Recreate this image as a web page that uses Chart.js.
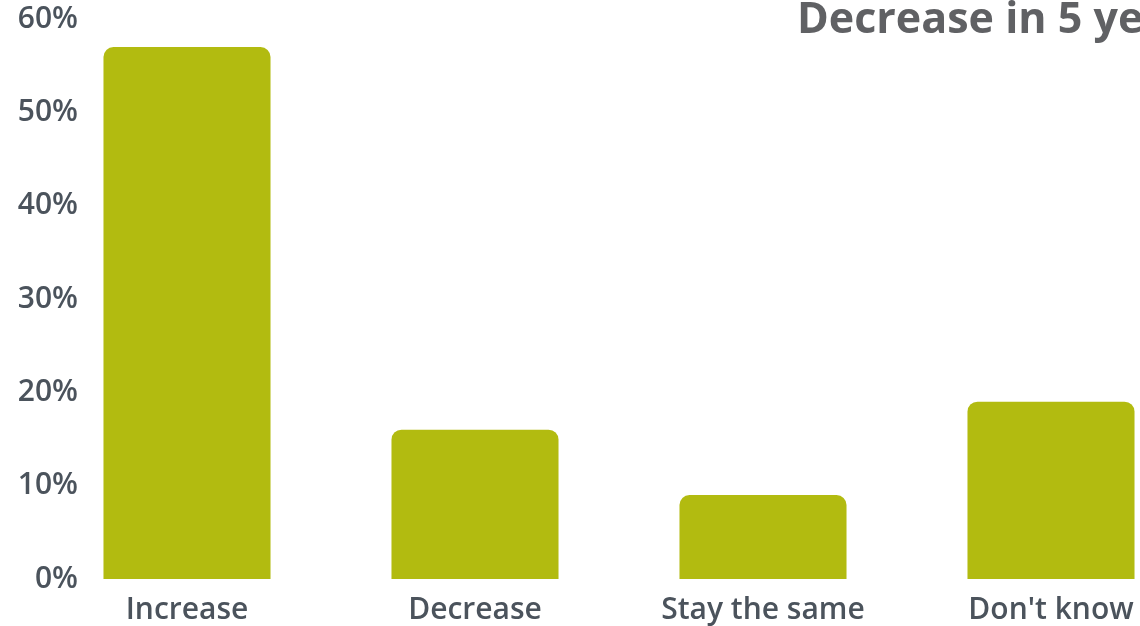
<!DOCTYPE html>
<html>
<head>
<meta charset="utf-8">
<script src="https://cdn.jsdelivr.net/npm/chart.js@4/dist/chart.umd.min.js"></script>
<style>
html,body{margin:0;padding:0;background:#fff;overflow:hidden;width:1140px;height:626px;}
#wrap{position:absolute;left:0;top:0;width:1140px;height:626px;overflow:hidden;}
canvas{display:block;}
</style>
</head>
<body>
<div id="wrap"><canvas id="c" width="1215" height="626"></canvas></div>
<script>
const categories = ["Increase", "Decrease", "Stay the same", "Don't know"];
const values = [57, 16, 9, 19];
const yTicks = [0, 10, 20, 30, 40, 50, 60];
const titleText = "Decrease in 5 years";

const FONT = "'Open Sans', 'Noto Sans', sans-serif";
const TICK_SIZE = 30;
const TICK_WEIGHT = 600;
const Y_AXIS_W = 43;
const LABEL_RIGHT = 78;

const mctx = document.createElement('canvas').getContext('2d');
mctx.font = TICK_WEIGHT + " " + TICK_SIZE + "px " + FONT;
const widest = Math.max(...yTicks.map(v => mctx.measureText(v + '%').width));
const yPad = LABEL_RIGHT - Y_AXIS_W - widest;

const titlePlugin = {
  id: 'cornerTitle',
  afterDraw(chart) {
    const ctx = chart.ctx;
    ctx.save();
    ctx.font = "bold 43px " + FONT;
    ctx.fillStyle = "#606164";
    ctx.textAlign = "left";
    ctx.textBaseline = "middle";
    ctx.fillText(titleText, 797, 21);
    ctx.restore();
  }
};

new Chart(document.getElementById('c'), {
  type: 'bar',
  data: {
    labels: categories,
    datasets: [{
      data: values,
      backgroundColor: '#b2bb10',
      borderRadius: 10,
      borderSkipped: 'start',
      categoryPercentage: 1,
      barPercentage: 0.58
    }]
  },
  options: {
    responsive: false,
    animation: false,
    layout: { padding: { top: 19, right: 20, left: 0, bottom: 0 } },
    plugins: { legend: { display: false }, tooltip: { enabled: false }, title: { display: false } },
    scales: {
      x: {
        grid: { display: false, drawTicks: false },
        border: { display: false },
        ticks: { color: '#4b535c', font: { family: FONT, size: TICK_SIZE, weight: TICK_WEIGHT }, padding: 13, maxRotation: 0, autoSkip: false },
        afterFit(s) { s.height = 47; }
      },
      y: {
        min: 0, max: 60,
        grid: { display: false, drawTicks: false },
        border: { display: false },
        afterBuildTicks(s) { s.ticks = yTicks.map(v => ({ value: v })); },
        ticks: { color: '#4b535c', font: { family: FONT, size: TICK_SIZE, weight: TICK_WEIGHT }, mirror: true, crossAlign: 'far', padding: yPad, callback: v => v + '%' },
        afterFit(s) { s.width = Y_AXIS_W; }
      }
    }
  },
  plugins: [titlePlugin]
});
</script>
</body>
</html>
